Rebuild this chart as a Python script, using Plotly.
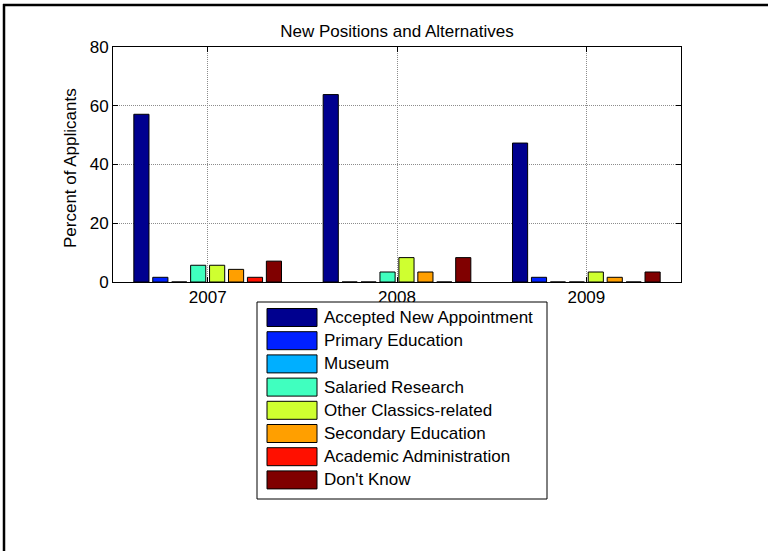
import plotly.graph_objects as go

# Survey years and answer categories
years = ["2007", "2008", "2009"]
categories = [
    "Accepted New Appointment",
    "Primary Education",
    "Museum",
    "Salaried Research",
    "Other Classics-related",
    "Secondary Education",
    "Academic Administration",
    "Don't Know",
]

# Percent of applicants per category, one value per year
accepted = [57.1, 63.8, 47.3]
primary = [1.6, 0.0, 1.6]
museum = [0.0, 0.0, 0.0]
salaried = [5.7, 3.4, 0.0]
other_classics = [5.7, 8.3, 3.4]
secondary = [4.3, 3.4, 1.6]
admin = [1.6, 0.0, 0.0]
dont_know = [7.1, 8.3, 3.4]

series = [accepted, primary, museum, salaried, other_classics, secondary, admin, dont_know]

# jet-style palette
colors = [
    "rgb(0,0,143)", "rgb(0,32,255)", "rgb(0,175,255)", "rgb(64,255,191)",
    "rgb(207,255,48)", "rgb(255,159,0)", "rgb(255,16,0)", "rgb(128,0,0)",
]

W, H = 768, 551
L, R, T, B = 113, 681, 47, 282  # plot area in pixels


def px_x(px):
    return (px - L) / (R - L)


def px_y(py):
    return (B - py) / (B - T)


FONT = "Liberation Sans, Arial, sans-serif"
FS = 17

x_pos = [1, 2, 3]
fig = go.Figure()
for name, vals, col in zip(categories, series, colors):
    fig.add_trace(go.Bar(
        x=x_pos, y=vals, name=name,
        marker=dict(color=col, line=dict(color="black", width=1)),
        showlegend=False,
    ))

shapes = []
annotations = []

# Outer frame lines (top and left)
shapes.append(dict(type="line", xref="paper", yref="paper",
                   x0=px_x(3), x1=px_x(W), y0=px_y(5), y1=px_y(5),
                   line=dict(color="black", width=2.5)))
shapes.append(dict(type="line", xref="paper", yref="paper",
                   x0=px_x(4), x1=px_x(4), y0=px_y(4), y1=px_y(H + 5),
                   line=dict(color="black", width=2.5)))

# Legend box
lg_l, lg_r, lg_t, lg_b = 257, 547, 302, 499
shapes.append(dict(type="rect", xref="paper", yref="paper",
                   x0=px_x(lg_l), x1=px_x(lg_r), y0=px_y(lg_t), y1=px_y(lg_b),
                   line=dict(color="black", width=1), fillcolor="white"))
row0, row_step = 317.5, 23.2
for i, (name, col) in enumerate(zip(categories, colors)):
    cy = row0 + i * row_step
    shapes.append(dict(type="rect", xref="paper", yref="paper",
                       x0=px_x(267), x1=px_x(317), y0=px_y(cy - 9), y1=px_y(cy + 9),
                       line=dict(color="black", width=1), fillcolor=col))
    annotations.append(dict(xref="paper", yref="paper", x=px_x(322), y=px_y(cy),
                            xanchor="left", yanchor="middle", text=name, showarrow=False,
                            font=dict(family=FONT, size=FS, color="black")))

# Y axis label
annotations.append(dict(xref="paper", yref="paper", x=px_x(70), y=px_y(168),
                        xanchor="center", yanchor="middle", textangle=-90,
                        text="Percent of Applicants", showarrow=False,
                        font=dict(family=FONT, size=FS, color="black")))

fig.update_layout(
    width=W, height=H,
    margin=dict(l=L, r=W - R, t=T, b=H - B, pad=0),
    paper_bgcolor="white", plot_bgcolor="white",
    barmode="group", bargap=0.2, bargroupgap=0.2,
    font=dict(family=FONT, size=FS, color="black"),
    title=dict(text="New Positions and Alternatives", x=0.5, xref="paper",
               y=1 - 31 / H, yref="container", xanchor="center", yanchor="middle",
               font=dict(family=FONT, size=FS, color="black")),
    shapes=shapes, annotations=annotations,
    showlegend=False,
)
fig.update_xaxes(
    range=[0.5, 3.5], tickvals=x_pos, ticktext=years,
    showline=True, linecolor="black", linewidth=1, mirror="ticks",
    ticks="inside", ticklen=5, tickcolor="black",
    showgrid=True, gridcolor="#8c8c8c", griddash="1px,1px", gridwidth=1,
    zeroline=False,
)
fig.update_yaxes(
    range=[0, 80], tickvals=[0, 20, 40, 60, 80],
    showline=True, linecolor="black", linewidth=1, mirror="ticks",
    ticks="inside", ticklen=5, tickcolor="black",
    showgrid=True, gridcolor="#8c8c8c", griddash="1px,1px", gridwidth=1,
    zeroline=False,
)

fig.write_html("out.html")
